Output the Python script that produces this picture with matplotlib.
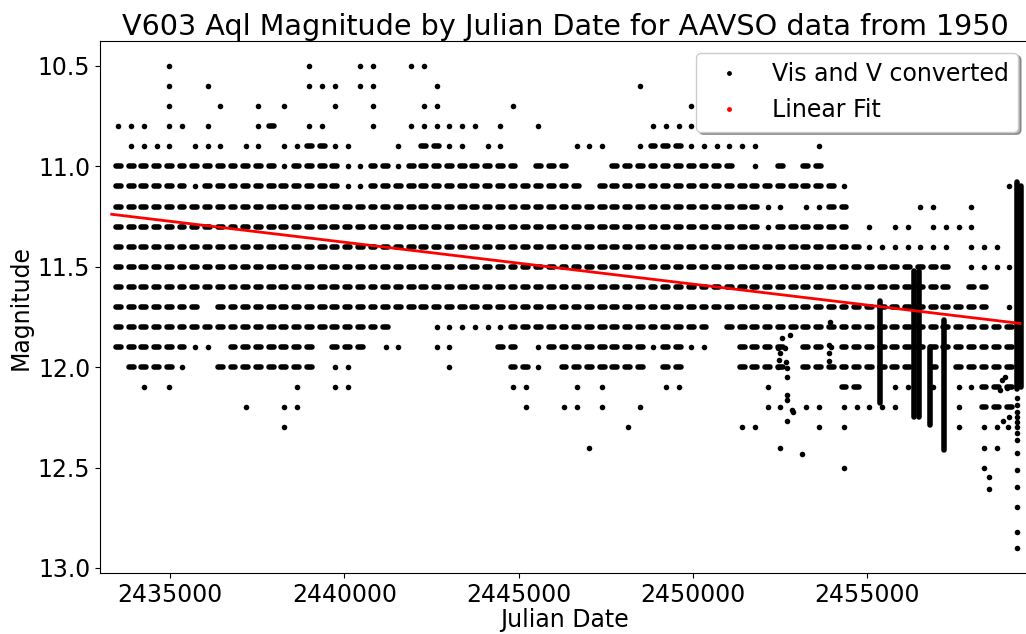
import matplotlib
matplotlib.use('Agg')
import matplotlib.pyplot as plt
import numpy as np
from matplotlib.collections import LineCollection
from matplotlib.lines import Line2D

# magnitude rows (visual estimates are reported in 0.1 mag steps)
mags = [10.5, 10.6, 10.7, 10.8, 10.9, 11.0, 11.1, 11.2, 11.3, 11.4, 11.5, 11.6,
        11.7, 11.8, 11.9, 12.0, 12.1, 12.2, 12.3, 12.4, 12.5]

# observing seasons with many estimates at that magnitude
dense_years = [
    "",
    "",
    "",
    "1962",
    "1965-1966 1974-1975 1992-1994",
    "1950-1962 1964-1967 1970 1971 1973-1981 1983-1985 1989-1998 2002 2004 2005",
    "1950-1955 1957-1967 1970-1986 1988-2006",
    "1950-2000 2006 2007",
    "1950-2000 2002-2007",
    "1950-2008",
    "1950-2015",
    "1950-2015 2017 2018",
    "1950-1956 1958-2018",
    "1950-1971 1981-1996 1998-2020",
    "1950-1955 1959-1965 1967-1969 1980 1981 1984-1991 1993 1994 1999-2002 2004 2005 2007-2020",
    "1951-1954 1958-1965 1981 1982 1985-1991 1993 1994 1999-2002 2004-2012 2014 2016-2020",
    "2007 2008 2018-2020",
    "2018-2020",
    "",
    "",
    "",
]

# seasons with only one or two estimates at that magnitude
single_years = [
    "1954 1965 1969 1970 1973 1974",
    "1954 1957 1965 1966 1967 1969 1970 1975 1991",
    "1954 1958 1961 1963 1967 1970 1974 1975 1981 1995",
    "1950 1951 1952 1954 1955 1957 1961 1965 1966 1970 1973-1978 1980 1983 1992-1995",
    "1951-1954 1956-1958 1960 1961 1963 1964 1967 1968 1972 1976 1977 1979 1980 1986-1988 1991 1995-2000 2005",
    "1963 1968 1969 1972 2000",
    "1956 1968 1969 2007 2020",
    "2001 2002 2004 2005 2013 2014 2017",
    "2001 2009 2011 2012 2014 2015 2016 2017",
    "2009-2015 2017-2019",
    "2017-2020",
    "",
    "2020",
    "1975-1980",
    "1956 1957 1971 1972 1975 1976 1983 1992 1995 1996 2006",
    "1955 1967 1968 1976 1983",
    "1952 1954 1964 1967 1968 1981 1982 1986 1988 1993 1994 2001 2011 2012 2014 2016 2017",
    "1960 1963 1964 1982 1985 1986 1988 1991 2001 2002 2004 2005 2007-2011 2016",
    "1963 1990 1999 2000 2005 2007 2016 2018 2019",
    "1987 2002 2018 2019",
    "2007 2018",
]

season_mid_1950 = 2433519   # JD of the middle of the 1950 season
season_half = 70            # days

# V-band (converted) points that are not on the 0.1 mag grid
ccd_jd = [2452550, 2452788, 2452452, 2452644, 2452501, 2452481, 2452669, 2452452,
          2452693, 2452693, 2452710, 2452693, 2452836, 2452883, 2452693, 2453132,
          2453907, 2453907, 2453907, 2453935, 2458956, 2458861, 2459005, 2458813,
          2459071, 2458907, 2459051, 2458497, 2458497,
          2459300, 2459300, 2459300, 2459300, 2459300, 2459300, 2459300,
          2459300, 2459300, 2459300, 2459300, 2459300, 2459300, 2459300]
ccd_mag = [11.856, 11.84, 11.906, 11.906, 11.93, 11.964, 11.973, 11.997,
           12.005, 12.047, 12.138, 12.163, 12.213, 12.222, 12.266, 12.43,
           11.89, 11.93, 11.97, 11.775, 12.047, 12.064, 12.105, 12.114,
           12.25, 12.27, 12.30, 12.545, 12.605,
           12.155, 12.188, 12.222, 12.247, 12.271, 12.296, 12.329,
           12.362, 12.429, 12.512, 12.595, 12.695, 12.819, 12.902]

# dense time-series runs (many CCD points in one season)
streak_jd = [2455370, 2456345, 2456489, 2456804, 2457206, 2459300, 2459415]
streak_top = [11.67, 11.52, 11.52, 11.90, 11.765, 11.08, 11.10]
streak_bot = [12.18, 12.25, 12.25, 12.29, 12.41, 12.11, 12.10]

# linear fit, end points
fit_jd = [2433327, 2459390]
fit_mag = [11.2385, 11.782]


def parse_years(spec):
    out = []
    for tok in spec.split():
        if '-' in tok:
            a, b = tok.split('-')
            out.extend(range(int(a), int(b) + 1))
        else:
            out.append(int(tok))
    return out


def season_mid(year):
    return season_mid_1950 + 365.25 * (year - 1950)


fig = plt.figure(figsize=(10.26, 6.34), dpi=100)
ax = fig.add_axes([100 / 1026, 61 / 634, 930 / 1026, 532 / 634])

segs = []
dot_x, dot_y = [], []
for m, dspec, sspec in zip(mags, dense_years, single_years):
    for yr in parse_years(dspec):
        c = season_mid(yr)
        segs.append([(c - season_half, m), (c + season_half, m)])
    for yr in parse_years(sspec):
        dot_x.append(season_mid(yr))
        dot_y.append(m)

for jd, top, bot in zip(streak_jd, streak_top, streak_bot):
    segs.append([(jd, top), (jd, bot)])

lc = LineCollection(segs, colors='black', linewidths=4, capstyle='round', zorder=2)
ax.add_collection(lc)
ax.plot(dot_x + ccd_jd, dot_y + ccd_mag, 'o', color='black', ms=4, mew=0, zorder=2)

ax.plot(fit_jd, fit_mag, color='red', lw=2, zorder=3)

ax.set_xlim(2432991, 2459675)
ax.set_ylim(13.025, 10.3755)
ax.set_yticks([10.5, 11.0, 11.5, 12.0, 12.5, 13.0])
ax.set_xticks([2435000, 2440000, 2445000, 2450000, 2455000])
ax.ticklabel_format(useOffset=False, style='plain')
ax.tick_params(labelsize=17)

ax.set_xlabel('Julian Date', fontsize=17, labelpad=1)
ax.set_ylabel('Magnitude', fontsize=17)
ax.set_title('V603 Aql Magnitude by Julian Date for AAVSO data from 1950',
             fontsize=20.6, pad=2)

handles = [
    Line2D([], [], ls='', marker='o', ms=3.5, mew=0, color='black'),
    Line2D([], [], ls='', marker='o', ms=3.5, mew=0, color='red'),
]
ax.legend(handles, ['Vis and V converted', 'Linear Fit'], loc='upper right',
          fontsize=17, shadow=True, fancybox=True)

fig.savefig('out.png', dpi=100)
